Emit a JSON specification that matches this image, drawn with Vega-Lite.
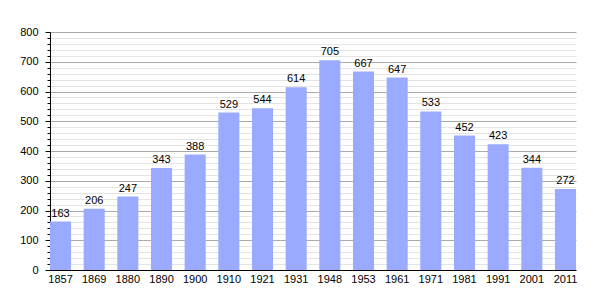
{
  "$schema": "https://vega.github.io/schema/vega-lite/v6.json",
  "width": 526,
  "height": 238,
  "autosize": {"type": "none"},
  "padding": {"left": 50, "top": 32, "right": 29, "bottom": 30},
  "background": "white",
  "config": {
    "view": {"stroke": null},
    "font": "Liberation Sans",
    "axis": {"labelFont": "Liberation Sans", "labelFontSize": 11, "labelColor": "#000"}
  },
  "data": {
    "values": [
      {"year": "1857", "pop": 163},
      {"year": "1869", "pop": 206},
      {"year": "1880", "pop": 247},
      {"year": "1890", "pop": 343},
      {"year": "1900", "pop": 388},
      {"year": "1910", "pop": 529},
      {"year": "1921", "pop": 544},
      {"year": "1931", "pop": 614},
      {"year": "1948", "pop": 705},
      {"year": "1953", "pop": 667},
      {"year": "1961", "pop": 647},
      {"year": "1971", "pop": 533},
      {"year": "1981", "pop": 452},
      {"year": "1991", "pop": 423},
      {"year": "2001", "pop": 344},
      {"year": "2011", "pop": 272}
    ]
  },
  "encoding": {
    "x": {
      "field": "year", "type": "ordinal", "sort": null,
      "scale": {"paddingInner": 0.375, "paddingOuter": 0},
      "axis": {"title": null, "labelAngle": 0, "ticks": false, "domainColor": "#000", "labelPadding": 3, "grid": false}
    },
    "y": {
      "field": "pop", "type": "quantitative",
      "scale": {"domain": [0, 800], "nice": false},
      "axis": {
        "title": null,
        "values": [0,20,40,60,80,100,120,140,160,180,200,220,240,260,280,300,320,340,360,380,400,420,440,460,480,500,520,540,560,580,600,620,640,660,680,700,720,740,760,780,800],
        "labelExpr": "datum.value % 100 === 0 ? datum.label : ''",
        "grid": true,
        "gridColor": {"condition": {"test": "datum.value % 100 === 0", "value": "#aaaaaa"}, "value": "#e4e4e4"},
        "tickSize": {"condition": {"test": "datum.value % 100 === 0", "value": 5}, "value": 3},
        "tickColor": "#000",
        "domainColor": "#000",
        "labelPadding": 7
      }
    }
  },
  "layer": [
    {"mark": {"type": "bar", "color": "#99aaff"}},
    {
      "mark": {"type": "text", "baseline": "bottom", "dy": -3, "fontSize": 11, "color": "#000", "font": "Liberation Sans"},
      "encoding": {"text": {"field": "pop", "type": "quantitative"}}
    }
  ]
}
